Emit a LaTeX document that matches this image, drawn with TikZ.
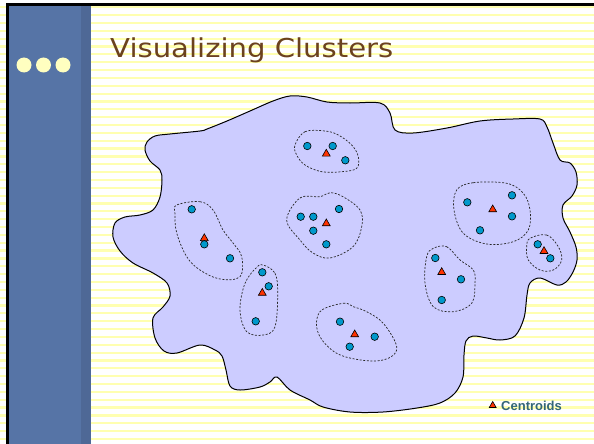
\documentclass[tikz,border=0pt]{standalone}
\usepackage{fontspec}
\usetikzlibrary{shapes.geometric}
\newfontfamily\titlefont[FakeStretch=1.12]{DejaVu Sans}
\newfontfamily\legendfont{Liberation Sans}
\definecolor{stripe}{RGB}{255,255,176}
\definecolor{sidebar}{RGB}{86,116,166}
\definecolor{sidebardark}{RGB}{78,104,150}
\definecolor{bullet}{RGB}{255,255,192}
\definecolor{titlebrown}{RGB}{107,66,30}
\definecolor{region}{RGB}{204,204,255}
\definecolor{pointblue}{RGB}{0,153,204}
\definecolor{centroidred}{RGB}{255,51,0}
\definecolor{legendteal}{RGB}{51,102,119}
\tikzset{
  pt/.style={circle, draw=black, fill=pointblue, line width=0.6pt, minimum size=7.5pt, inner sep=0pt},
  centroid/.style={regular polygon, regular polygon sides=3, draw=black, fill=centroidred, line width=0.6pt, minimum size=9pt, inner sep=0pt},
  cluster/.style={draw=black!85, line width=0.7pt, dash pattern=on 2pt off 1.6pt},
  blob/.style={draw=black, fill=region, line width=1pt},
  dot/.style={circle, fill=bullet, minimum size=15pt, inner sep=0pt}
}
\begin{document}
\begin{tikzpicture}[x=1pt,y=-1pt]
\useasboundingbox (0,0) rectangle (594,444);
% ruled paper background
\fill[white] (0,0) rectangle (594,444);
\foreach \i in {0,...,56}
  \draw[stripe, line width=2.2pt] (0,7.3+7.848*\i) -- (594,7.3+7.848*\i);
% side bar and frame
\fill[sidebar] (9,6) rectangle (81,444);
\fill[sidebardark] (81,6) rectangle (91,444);
\fill[black] (6,3) rectangle (9,444);
\fill[black] (6,3) rectangle (594,6);
\node[dot] (d1) at (24,65) {};
\node[dot] (d2) at (43.5,65) {};
\node[dot] (d3) at (63,65) {};
% title
\node[anchor=base west, inner sep=0pt, text=titlebrown,
      font=\titlefont\fontsize{26}{30}\selectfont] (title) at (110,57) {Visualizing Clusters};
% the data region
\draw[blob] plot[smooth cycle, tension=0.55] coordinates {
  (147,142) (155,136) (170,134) (200,131) (207,129) (227,121) (250,111) (273,101)
  (290,96) (307,97) (327,102) (350,103) (380,103) (390,113) (395,130) (413,133)
  (447,128) (480,121) (513,119) (540,119) (547,127) (553,143) (560,160) (570,163)
  (576,172) (577,185) (572,196) (563,205) (563,218) (570,232) (576,247) (577,260)
  (573,272) (566,282) (557,285) (540,278) (530,283) (527,295) (524,318) (515,336)
  (500,340) (487,338) (473,336) (466,341) (464,355) (463,377) (455,393) (440,403)
  (417,408) (383,412) (350,412) (323,407) (310,400) (290,390) (277,377) (270,382)
  (260,387) (240,390) (230,386) (226,370) (222,356) (215,350) (200,345) (177,353)
  (164,351) (155,338) (153,318) (163,307) (170,296) (167,283) (153,273) (133,263)
  (120,251) (113,237) (115,223) (125,217) (140,215) (153,210) (160,197) (162,180)
  (160,170) (150,161) (145,150)};
% cluster outlines
\draw[cluster] plot[smooth cycle, tension=0.6] coordinates {
  (295,145) (305,131.7) (325,131) (338.3,135) (351.7,145) (358.3,156.7)
  (356.7,168.3) (341.7,171.7) (321.7,171.7) (305,165) (296.7,155)};
\draw[cluster] plot[smooth cycle, tension=0.6] coordinates {
  (286.7,220) (300,198) (320,196.7) (330,192.7) (343,196.7) (360,210)
  (361.7,226.7) (353,246.7) (330,258) (313,253) (300,240)};
\draw[cluster] plot[smooth cycle, tension=0.6] coordinates {
  (176.7,205) (200,201.7) (213,210) (223,230) (233,243) (241.7,256.7)
  (240,276.7) (220,279) (200,270) (186.7,256.7) (176.7,233) (175,214)};
\draw[cluster] plot[smooth cycle, tension=0.6] coordinates {
  (263.3,265) (275,273.3) (277.7,293.3) (275,326.7) (263.3,335)
  (246.7,331.7) (240,310) (245,283.3) (256.7,267.3)};
\draw[cluster] plot[smooth cycle, tension=0.6] coordinates {
  (320,311.7) (343.3,303.3) (353.3,306.7) (366.7,311.7) (383.3,323.3)
  (396.7,346.7) (388.3,358.3) (366.7,360.7) (336.7,353.3) (318.3,333.3)};
\draw[cluster] plot[smooth cycle, tension=0.6] coordinates {
  (433.3,248.3) (446.7,246.7) (460,260) (473.3,270) (475,283.3)
  (471.7,303.3) (453.3,311.7) (433.3,306.7) (425,283.3) (426.7,256.7)};
\draw[cluster] plot[smooth cycle, tension=0.6] coordinates {
  (456.7,190) (473.3,182.7) (506.7,183.3) (523.3,193.3) (530,210)
  (528.3,230) (513.3,241.7) (486.7,244) (463.3,233.3) (454,210)};
\draw[cluster] plot[smooth cycle, tension=0.6] coordinates {
  (530,238.3) (546.7,235) (558.3,246.7) (561.7,260) (553.3,270)
  (540,270) (528.3,260) (526.7,246.7)};
% cluster A
\node[pt] (a1) at (307.3,146) {};
\node[pt] (a2) at (332.7,146) {};
\node[pt] (a3) at (345.3,160.3) {};
\node[centroid] (ca) at (326.3,153.8) {};
% cluster B
\node[pt] (b1) at (300.7,216.7) {};
\node[pt] (b2) at (313.3,216.7) {};
\node[pt] (b3) at (339,209) {};
\node[pt] (b4) at (313.3,230.7) {};
\node[pt] (b5) at (326.3,244.3) {};
\node[centroid] (cb) at (326.3,223.5) {};
% cluster C
\node[pt] (c1) at (191.7,209.3) {};
\node[centroid] (cc) at (204.3,238.3) {};
\node[pt] (c2) at (204.3,244.3) {};
\node[pt] (c3) at (230,258.3) {};
% cluster D
\node[pt] (e1) at (262.3,272.3) {};
\node[pt] (e2) at (268.7,286.3) {};
\node[pt] (e3) at (255.7,321.3) {};
\node[centroid] (ce) at (262.3,293) {};
% cluster E
\node[pt] (f1) at (340,321.7) {};
\node[pt] (f2) at (374.7,336.7) {};
\node[pt] (f3) at (349.7,346.7) {};
\node[centroid] (cf) at (354.7,334.5) {};
% cluster F
\node[pt] (g1) at (435.3,258) {};
\node[pt] (g2) at (461,279.3) {};
\node[pt] (g3) at (441.7,300) {};
\node[centroid] (cg) at (441.7,272.2) {};
% cluster G
\node[pt] (h1) at (467.3,202.3) {};
\node[pt] (h2) at (512,195.3) {};
\node[pt] (h3) at (512,216.3) {};
\node[pt] (h4) at (480,230.3) {};
\node[centroid] (ch) at (492.7,209.5) {};
% cluster H
\node[pt] (k1) at (537.7,244.3) {};
\node[centroid] (ck) at (544,251.2) {};
\node[pt] (k2) at (550.3,258.3) {};
% legend
\node[centroid, minimum size=8pt] (lg) at (492.7,405.5) {};
\node[anchor=west, inner sep=0pt, text=legendteal,
      font=\legendfont\bfseries\fontsize{13}{15}\selectfont] (lgtext) at (501,406) {Centroids};
\end{tikzpicture}
\end{document}
